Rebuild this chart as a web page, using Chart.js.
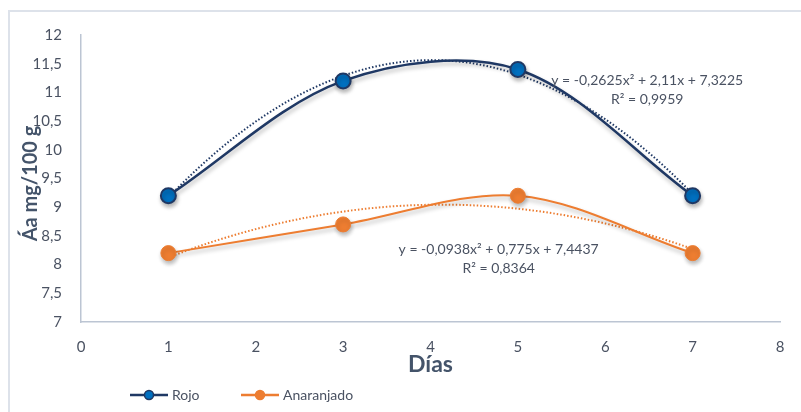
<!DOCTYPE html>
<html>
<head>
<meta charset="utf-8">
<script src="https://cdn.jsdelivr.net/npm/chart.js@4.4.1/dist/chart.umd.min.js"></script>
<style>
  html, body { margin: 0; padding: 0; background: #fff; }
  #wrap { width: 801px; height: 412px; position: relative; }
</style>
</head>
<body>
<div id="wrap"><canvas id="chart" width="801" height="412"></canvas></div>
<script>
/* DATOS */
const dias = [1, 3, 5, 7];
const rojo = [9.2, 11.2, 11.4, 9.2];
const anaranjado = [8.2, 8.7, 9.2, 8.2];
const xTicks = [0, 1, 2, 3, 4, 5, 6, 7, 8];
const yTicks = [7, 7.5, 8, 8.5, 9, 9.5, 10, 10.5, 11, 11.5, 12];
const yTitulo = "Áa mg/100 g";
const xTitulo = "Días";

// coeficientes de las líneas de tendencia (a, b, c)
const coefRojo = [-0.2625, 2.11, 7.3225];
const coefAnaranjado = [-0.0938, 0.775, 7.4437];
const eqRojo = ["y = -0,2625x² + 2,11x + 7,3225", "R² = 0,9959"];
const eqAnaranjado = ["y = -0,0938x² + 0,775x + 7,4437", "R² = 0,8364"];
const eqRojoPos = [6.48, 11.2];
const eqAnaranjadoPos = [4.78, 8.27];

const AZUL = "#1f3864";
const AZUL_FILL = "#0070c0";
const NARANJA = "#ed7d31";
const TEXTO = "#4a5262";
const TITULO = "#44546a";

function trend(coef) {
  const pts = [];
  for (let i = 0; i <= 60; i++) {
    const x = 1 + i * 0.1;
    pts.push({ x, y: coef[0] * x * x + coef[1] * x + coef[2] });
  }
  return pts;
}

function toPoints(ys) {
  return dias.map((d, i) => ({ x: d, y: ys[i] }));
}

const fmt = v => String(v).replace(".", ",");

/* PLUGINS */
const frame = {
  id: "frame",
  beforeDraw(c) {
    const ctx = c.ctx;
    ctx.save();
    ctx.strokeStyle = "#dde2ea";
    ctx.lineWidth = 2;
    ctx.beginPath();
    ctx.moveTo(9, 412);
    ctx.lineTo(9, 11);
    ctx.lineTo(801, 11);
    ctx.stroke();
    ctx.restore();
  }
};

const shadow = {
  id: "shadow",
  beforeDatasetDraw(c, args) {
    if (args.index > 1) return;
    const ctx = c.ctx;
    ctx.save();
    ctx.shadowColor = "rgba(0,0,0,0.28)";
    ctx.shadowBlur = 4;
    ctx.shadowOffsetX = 1;
    ctx.shadowOffsetY = 3;
  },
  afterDatasetDraw(c, args) {
    if (args.index > 1) return;
    c.ctx.restore();
  }
};

const tituloY = {
  id: "tituloY",
  afterDraw(c) {
    const ctx = c.ctx;
    const a = c.chartArea;
    ctx.save();
    ctx.translate(31, (a.top + a.bottom) / 2 + 5);
    ctx.rotate(-Math.PI / 2);
    ctx.font = "bold 20px Lato";
    ctx.fillStyle = TITULO;
    ctx.textAlign = "center";
    ctx.textBaseline = "middle";
    ctx.fillText(yTitulo, 0, 0);
    ctx.restore();
  }
};

const ecuaciones = {
  id: "ecuaciones",
  afterDraw(c) {
    const ctx = c.ctx;
    const xs = c.scales.x, ys = c.scales.y;
    ctx.save();
    ctx.font = "14px Lato";
    ctx.fillStyle = TEXTO;
    ctx.textAlign = "center";
    ctx.textBaseline = "middle";
    [[eqRojo, eqRojoPos], [eqAnaranjado, eqAnaranjadoPos]].forEach(([lines, pos]) => {
      const px = xs.getPixelForValue(pos[0]);
      const py = ys.getPixelForValue(pos[1]);
      ctx.fillText(lines[0], px, py);
      ctx.fillText(lines[1], px, py + 19);
    });
    ctx.restore();
  }
};

const leyenda = {
  id: "leyenda",
  afterDraw(c) {
    const ctx = c.ctx;
    const items = [["Rojo", AZUL, AZUL_FILL, 130], ["Anaranjado", NARANJA, NARANJA, 241]];
    ctx.save();
    ctx.font = "14px Lato";
    ctx.textBaseline = "middle";
    items.forEach(([label, line, fill, x]) => {
      const y = 395;
      ctx.strokeStyle = line;
      ctx.lineWidth = 2.5;
      ctx.beginPath();
      ctx.moveTo(x, y);
      ctx.lineTo(x + 38, y);
      ctx.stroke();
      ctx.beginPath();
      ctx.arc(x + 19, y, 4.5, 0, Math.PI * 2);
      ctx.fillStyle = fill;
      ctx.fill();
      ctx.lineWidth = 1.5;
      ctx.stroke();
      ctx.fillStyle = TEXTO;
      ctx.fillText(label, x + 42, y);
    });
    ctx.restore();
  }
};

/* GRAFICO */
const chart = new Chart(document.getElementById("chart"), {
  type: "scatter",
  data: {
    datasets: [
      {
        label: "Rojo",
        data: toPoints(rojo),
        showLine: true,
        borderColor: AZUL,
        borderWidth: 2.5,
        backgroundColor: AZUL_FILL,
        pointBorderColor: AZUL,
        pointBorderWidth: 2,
        pointRadius: 7.5,
        tension: 0.33
      },
      {
        label: "Anaranjado",
        data: toPoints(anaranjado),
        showLine: true,
        borderColor: NARANJA,
        borderWidth: 2,
        backgroundColor: NARANJA,
        pointBorderColor: NARANJA,
        pointBorderWidth: 1,
        pointRadius: 7.5,
        tension: 0.33
      },
      {
        label: "Tendencia Rojo",
        data: trend(coefRojo),
        showLine: true,
        borderColor: AZUL,
        borderWidth: 2,
        borderDash: [1.5, 2],
        pointRadius: 0
      },
      {
        label: "Tendencia Anaranjado",
        data: trend(coefAnaranjado),
        showLine: true,
        borderColor: NARANJA,
        borderWidth: 2,
        borderDash: [1.5, 2],
        pointRadius: 0
      }
    ]
  },
  options: {
    responsive: false,
    animation: false,
    layout: { padding: { left: 0, right: 21, top: 35, bottom: 30 } },
    plugins: {
      legend: { display: false },
      tooltip: { enabled: false }
    },
    scales: {
      x: {
        type: "linear",
        min: 0,
        max: 8,
        afterBuildTicks: s => { s.ticks = xTicks.map(v => ({ value: v })); },
        afterFit: s => { s.height = 60; },
        grid: { display: false },
        border: { color: "#bcc5d3", width: 1.5 },
        ticks: { color: TEXTO, font: { family: "Lato", size: 15 }, padding: 8, callback: v => fmt(v) },
        title: { display: true, text: xTitulo, color: TITULO, font: { family: "Lato", size: 23, weight: "bold" }, padding: { top: 2 } }
      },
      y: {
        min: 7,
        max: 12,
        afterBuildTicks: s => { s.ticks = yTicks.map(v => ({ value: v })); },
        afterFit: s => { s.width = 81; },
        grid: { display: false },
        border: { color: "#bcc5d3", width: 1.5 },
        ticks: { color: TEXTO, font: { family: "Lato", size: 15 }, padding: 11, callback: v => fmt(v) },
        title: { display: false }
      }
    }
  },
  plugins: [frame, shadow, tituloY, ecuaciones, leyenda]
});
</script>
</body>
</html>
